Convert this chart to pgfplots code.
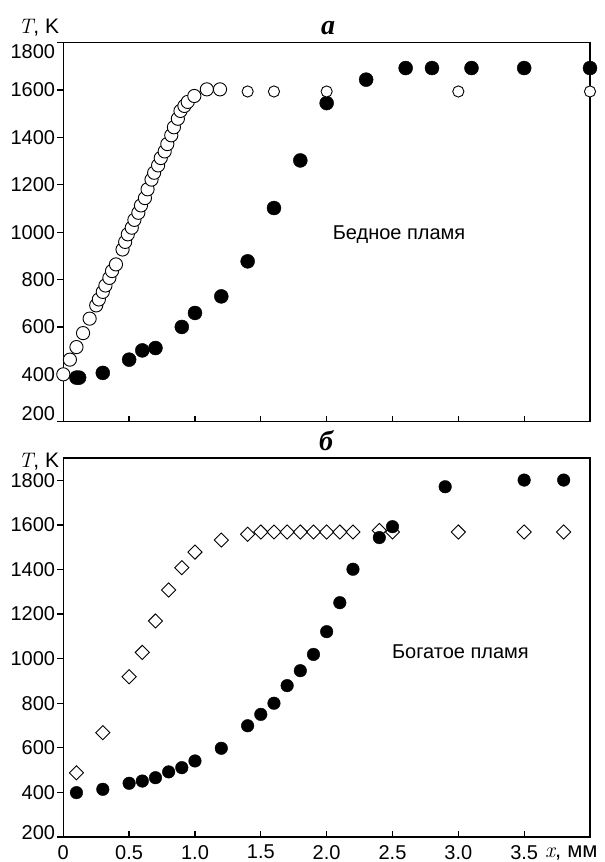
\documentclass[border=0pt]{standalone}
\usepackage{fontspec}
\setmainfont{Liberation Sans}
\newfontfamily\serifcyr{Liberation Serif}
\newfontfamily\lmr{Latin Modern Roman}
\usepackage{pgfplots}
\pgfplotsset{compat=1.18}
\newcommand{\sh}[2]{\raisebox{#1}[\height][\depth]{#2}}
\newcommand{\bigf}{\fontsize{20}{24}\selectfont}
\pgfplotsset{
  panel/.style={
    scale only axis, width=526.7pt, height=379pt,
    xmin=0, xmax=4, ymin=200,
    clip=false,
    axis line style={line width=1.3pt},
    xtick={0,0.5,1,1.5,2,2.5,3,3.5},
    ytick={200,400,...,1800},
    xtick pos=bottom, ytick pos=left,
    xtick align=inside, ytick align=outside,
    major tick length=6pt,
    tick style={black, line width=1.3pt},
    tick label style={font=\bigf, inner sep=2pt},
    /pgf/number format/assume math mode=true,
    /pgf/number format/1000 sep={},
  },
  opencirc/.style={only marks, mark=*, mark size=6.6pt, mark options={fill=white, draw=black, line width=0.9pt}},
  filledcirc/.style={only marks, mark=*, mark size=#1, mark options={fill=black, draw=black}},
  opendiam/.style={only marks, mark=square, mark size=5pt, mark options={rotate=45, fill=white, draw=black, line width=0.9pt}},
}
\begin{document}
\begin{tikzpicture}[font=\bigf]
\useasboundingbox (-63.3pt,-25pt) rectangle (541.7pt,837pt);
% ---------- panel a ----------
\begin{axis}[panel, name=top, at={(0pt,415.3pt)}, anchor=south west, ymax=1800, xticklabels={},
  yticklabel={\ifnum\ticknum=0 \sh{8pt}{\pgfmathprintnumber{\tick}}\else\ifnum\ticknum=8 \sh{-9pt}{\pgfmathprintnumber{\tick}}\else\pgfmathprintnumber{\tick}\fi\fi}]
\addplot[filledcirc=7pt] coordinates {
 (0.10,386) (0.12,386) (0.30,406) (0.50,462) (0.60,501) (0.70,511) (0.90,600)
 (1.0,659) (1.2,729) (1.4,877) (1.6,1102) (1.8,1303) (2.0,1545) (2.3,1644)
 (2.6,1693) (2.8,1693) (3.1,1693) (3.5,1693) (4.0,1693)
};
\addplot[opencirc] coordinates {
 (0.00,400) (0.05,462) (0.10,515) (0.15,574) (0.20,635) (0.25,691) (0.27,716)
 (0.30,748) (0.32,775) (0.35,807) (0.37,836) (0.40,864) (0.45,927) (0.47,959)
 (0.49,991) (0.52,1019) (0.54,1052) (0.57,1082) (0.59,1113) (0.62,1144)
 (0.64,1181) (0.67,1222) (0.69,1251) (0.72,1282) (0.74,1313) (0.77,1341)
 (0.79,1372) (0.82,1409) (0.84,1443) (0.87,1479) (0.89,1512) (0.92,1533)
 (0.945,1550) (0.995,1575) (1.09,1603) (1.19,1603)
};
\addplot[opencirc, mark size=5.6pt] coordinates {
 (1.4,1594) (1.6,1594) (2.0,1594) (3.0,1594) (4.0,1594)
};
\node[anchor=west, font=\bigf] at (axis cs:2.02,990) {Бедное пламя};
\end{axis}
% ---------- panel b ----------
\begin{axis}[panel, name=bot, at={(0pt,0pt)}, anchor=south west, ymax=1900,
  xticklabels={0,0.5,1.0,1.5,2.0,2.5,3.0,3.5},
  xticklabel style={yshift=-6pt},
  yticklabel={\ifnum\ticknum=0 \sh{4pt}{\pgfmathprintnumber{\tick}}\else\pgfmathprintnumber{\tick}\fi}]
\addplot[opendiam] coordinates {
 (0.1,488) (0.3,668) (0.5,919) (0.6,1028) (0.7,1169) (0.8,1308) (0.9,1408)
 (1.0,1478) (1.2,1532) (1.4,1558) (1.5,1568) (1.6,1568) (1.7,1568) (1.8,1568)
 (1.9,1568) (2.0,1568) (2.1,1568) (2.2,1568) (2.4,1575) (2.5,1568) (3.0,1568)
 (3.5,1568) (3.8,1568)
};
\addplot[filledcirc=6.3pt] coordinates {
 (0.1,399) (0.3,414) (0.5,441) (0.6,451) (0.7,466) (0.8,492) (0.9,511)
 (1.0,541) (1.2,598) (1.4,699) (1.5,750) (1.6,800) (1.7,879) (1.8,946)
 (1.9,1019) (2.0,1121) (2.1,1251) (2.2,1401) (2.4,1543) (2.5,1592)
 (2.9,1771) (3.5,1801) (3.8,1801)
};
\node[anchor=west, font=\bigf] at (axis cs:2.47,1030) {Богатое пламя};
\end{axis}
% ---------- labels ----------
\node[anchor=base east, inner sep=0pt, font=\fontsize{21}{25}\selectfont] at (-4pt,803pt) {{\lmr\itshape T}, K};
\node[anchor=base east, inner sep=0pt, font=\fontsize{21}{25}\selectfont] at (-4pt,369pt) {{\lmr\itshape T}, K};
\node[anchor=base, inner sep=0pt, font=\serifcyr\bfseries\itshape\fontsize{28}{32}\selectfont] at (264.7pt,802pt) {а};
\node[anchor=base, inner sep=0pt, font=\serifcyr\bfseries\itshape\fontsize{28}{32}\selectfont] at (262.7pt,386pt) {б};
\node[anchor=base west, inner sep=0pt, font=\fontsize{22}{26}\selectfont] at (481.7pt,-20pt) {{\lmr\itshape x}, мм};
\end{tikzpicture}
\end{document}
